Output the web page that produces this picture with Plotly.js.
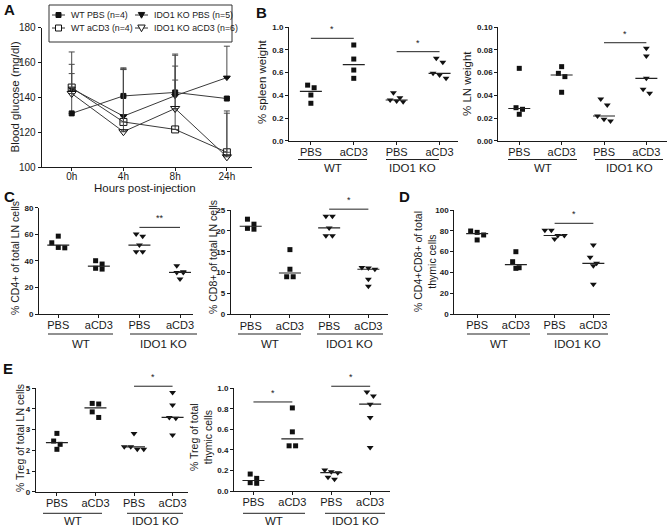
<!DOCTYPE html>
<html><head><meta charset="utf-8">
<script src="https://cdn.plot.ly/plotly-3.0.1.min.js"></script>
<style>html,body{margin:0;padding:0;background:#fff}</style>
</head><body>
<div id="chart" style="width:670px;height:527px"></div>
<script>
// ---------- DATA ----------
// Panel A: blood glucose time course
const timepoints = ['0h', '4h', '8h', '24h'];
const seriesNames = ['WT PBS (n=4)', 'IDO1 KO PBS (n=5)', 'WT aCD3 (n=4)', 'IDO1 KO aCD3 (n=6)'];
const wtPbsGlucose = [130.9, 140.9, 142.9, 139.4];
const wtPbsGlucoseErr = [13, 15.5, 22, 1];
const koPbsGlucose = [145.1, 129.3, 141.0, 151.4];
const koPbsGlucoseErr = [13.9, 27, 17, 18];
const wtCd3Glucose = [145.7, 126.0, 121.7, 108.6];
const wtCd3GlucoseErr = [20.4, 30, 28.3, 23.7];
const koCd3Glucose = [142.3, 120.4, 133.7, 106.0];
const koCd3GlucoseErr = [11.4, 36.6, 30.5, 25];

// Scatter panels: category labels
const treatments = ['PBS', 'aCD3', 'PBS', 'aCD3'];
const genotypes = ['WT', 'IDO1 KO'];

// B: % spleen weight
const spleenWtPbs = [0.49, 0.467, 0.403, 0.33];
const spleenWtCd3 = [0.844, 0.72, 0.623, 0.55];
const spleenKoPbs = [0.423, 0.379, 0.359, 0.35, 0.344];
const spleenKoCd3 = [0.727, 0.691, 0.594, 0.579, 0.55];
// B: % LN weight
const lnWtPbs = [0.0638, 0.0291, 0.0277, 0.0233];
const lnWtCd3 = [0.0653, 0.0594, 0.0565, 0.0427];
const lnKoPbs = [0.0368, 0.0315, 0.0218, 0.0189, 0.0174];
const lnKoCd3 = [0.0815, 0.0747, 0.055, 0.0453, 0.0418];
// C: % CD4+ of total LN cells
const cd4WtPbs = [58.6, 53.6, 50.1, 49.8];
const cd4WtCd3 = [40.1, 37.6, 34.4, 33.8];
const cd4KoPbs = [60.2, 58.6, 51.9, 46.8, 46.8];
const cd4KoCd3 = [36.3, 31.8, 31.3, 31.3, 26.3];
// C: % CD8+ of total LN cells
const cd8WtPbs = [22.8, 21.6, 20.6, 20.4];
const cd8WtCd3 = [15.5, 10.8, 9.0, 9.0];
const cd8KoPbs = [23.5, 23.5, 20.7, 18.8, 18.8];
const cd8KoCd3 = [11.2, 11.1, 10.8, 8.4, 6.7];
// D: % CD4+CD8+ of total thymic cells
const dpWtPbs = [79.8, 78.5, 76.0, 71.2];
const dpWtCd3 = [59.9, 50.3, 44.5, 43.9];
const dpKoPbs = [80.5, 80.5, 75.5, 75.5, 72.0];
const dpKoCd3 = [66.3, 54.5, 48.7, 46.4, 28.5];
// E: % Treg of total LN cells
const tregLnWtPbs = [2.82, 2.45, 2.29, 2.05];
const tregLnWtCd3 = [4.27, 4.24, 3.86, 3.59];
const tregLnKoPbs = [2.82, 2.17, 2.17, 2.05, 2.05];
const tregLnKoCd3 = [4.80, 4.19, 3.59, 3.55, 2.74];
// E: % Treg of total thymic cells
const tregThyWtPbs = [0.165, 0.123, 0.081, 0.075];
const tregThyWtCd3 = [0.809, 0.576, 0.44, 0.44];
const tregThyKoPbs = [0.204, 0.187, 0.178, 0.133, 0.114];
const tregThyKoCd3 = [0.964, 0.925, 0.845, 0.716, 0.424];

// ---------- LAYOUT HELPERS ----------
const W = 670, H = 527;
const FONT = 'Liberation Sans, Arial, sans-serif';
const INK = '#1a1a1a';
const px = p => p / W;
const py = p => 1 - p / H;

const panels = [
  {n: 2, groups: [spleenWtPbs, spleenWtCd3, spleenKoPbs, spleenKoCd3], box: [289, 458, 27.3, 140.7], yr: [0, 1], dtick: 0.2, fmt: '.1f', xr: [-0.51, 3.43],
   title: '% spleen weight', tfs: 11.5, tpos: [262, 82], ulY: 159.5, glY: 168, ul: [[298, 367], [386, 439]], sig: [[0, 1, 0.903, '*'], [2, 3, 0.785, '*']]},
  {n: 3, groups: [lnWtPbs, lnWtCd3, lnKoPbs, lnKoCd3], box: [498.3, 666.7, 27.3, 140.7], yr: [0, 0.1], dtick: 0.02, fmt: '.2f', xr: [-0.495, 3.48],
   title: '% LN weight', tfs: 11.5, tpos: [467, 84], ulY: 159.5, glY: 168, ul: [[508, 577], [595, 663]], sig: [[2, 3, 0.0864, '*']]},
  {n: 4, groups: [cd4WtPbs, cd4WtCd3, cd4KoPbs, cd4KoCd3], box: [39, 193, 207.7, 314], yr: [0, 80], dtick: 20, fmt: 'd', xr: [-0.475, 3.32],
   title: '% CD4+ of total LN cells', tfs: 10.5, tpos: [15, 258], ulY: 334, glY: 343.5, ul: [[48, 113], [130, 197]], sig: [[2, 3, 65.2, '**']]},
  {n: 5, groups: [cd8WtPbs, cd8WtCd3, cd8KoPbs, cd8KoCd3], box: [230.7, 388, 210, 314.3], yr: [0, 25], dtick: 5, fmt: 'd', xr: [-0.51, 3.5],
   title: '% CD8+ of total LN cells', tfs: 10.5, tpos: [213, 257], ulY: 334, glY: 343.5, ul: [[238, 301], [317, 383]], sig: [[2, 3, 25.2, '*']]},
  {n: 6, groups: [dpWtPbs, dpWtCd3, dpKoPbs, dpKoCd3], box: [454.3, 610, 210, 314], yr: [0, 100], dtick: 20, fmt: 'd', xr: [-0.59, 3.43],
   title: '% CD4+CD8+ of total<br>thymic cells', tfs: 10.5, tpos: [425, 262], ulY: 334, glY: 343.5, ul: [[467, 530], [547, 608]], sig: [[2, 3, 87.2, '*']]},
  {n: 7, groups: [tregLnWtPbs, tregLnWtCd3, tregLnKoPbs, tregLnKoCd3], box: [35.7, 188, 388.3, 491.7], yr: [0, 5], dtick: 1, fmt: 'd', xr: [-0.55, 3.40],
   title: '% Treg of total LN cells', tfs: 10.5, tpos: [20, 438], ulY: 513.3, glY: 520.5, ul: [[43, 102], [127, 183]], sig: [[2, 3, 5.1, '*']]},
  {n: 8, groups: [tregThyWtPbs, tregThyWtCd3, tregThyKoPbs, tregThyKoCd3], box: [234, 390, 388.3, 491], yr: [0, 1], dtick: 0.2, fmt: '.1f', xr: [-0.5, 3.51],
   title: '% Treg of total<br>thymic cells', tfs: 10.5, tpos: [201, 437], ulY: 513.3, glY: 520.5, ul: [[243, 305], [325, 385]], sig: [[0, 1, 0.867, '*'], [2, 3, 1.02, '*']]}
];

const mapX = (p, v) => p.box[0] + (v - p.xr[0]) / (p.xr[1] - p.xr[0]) * (p.box[1] - p.box[0]);
const mapY = (p, v) => p.box[3] - (v - p.yr[0]) / (p.yr[1] - p.yr[0]) * (p.box[3] - p.box[2]);

// GraphPad-like horizontal spreading of points that would overlap (in pixels)
function jitterPx(vals, pxPerY, d) {
  const idx = vals.map((v, i) => i).sort((a, b) => vals[b] - vals[a]);
  const off = new Array(vals.length).fill(0);
  let cl = [idx[0]];
  const flush = () => { const n = cl.length; cl.forEach((k, j) => { off[k] = (j - (n - 1) / 2) * d; }); };
  for (let j = 1; j < idx.length; j++) {
    if ((vals[cl[0]] - vals[idx[j]]) * pxPerY < d) cl.push(idx[j]);
    else { flush(); cl = [idx[j]]; }
  }
  flush();
  return off;
}
function median(a) {
  const s = a.slice().sort((x, y) => x - y); const m = s.length >> 1;
  return s.length % 2 ? s[m] : (s[m - 1] + s[m]) / 2;
}

const traces = [];
const shapes = [];
const annotations = [];
const layout = {
  width: W, height: H, margin: {l: 0, r: 0, t: 0, b: 0},
  paper_bgcolor: '#fff', plot_bgcolor: 'rgba(0,0,0,0)', showlegend: false,
  font: {family: FONT, color: INK}
};

function axisBase() {
  return {showline: true, linecolor: INK, linewidth: 1, ticks: 'outside', ticklen: 3, tickwidth: 1, tickcolor: INK,
          showgrid: false, zeroline: false, fixedrange: true};
}

// ---------- PANEL A ----------
{
  const box = [41.7, 251.7, 27.7, 167.3];
  layout.xaxis = Object.assign(axisBase(), {domain: [px(box[0]), px(box[1])], range: [-0.58, 3.48], anchor: 'y',
    tickvals: [0, 1, 2, 3], ticktext: timepoints, ticklabelstandoff: -3, tickfont: {size: 10, family: FONT, color: INK}});
  layout.yaxis = Object.assign(axisBase(), {domain: [py(box[3]), py(box[2])], range: [100, 180], anchor: 'x',
    tickvals: [100, 120, 140, 160, 180], tickfont: {size: 10, family: FONT, color: INK}});
  const ser = [
    [wtPbsGlucose, wtPbsGlucoseErr, 'square', 5],
    [koPbsGlucose, koPbsGlucoseErr, 'triangle-down', 6],
    [wtCd3Glucose, wtCd3GlucoseErr, 'square-open', 7],
    [koCd3Glucose, koCd3GlucoseErr, 'triangle-down-open', 8]
  ];
  ser.forEach((s, i) => {
    traces.push({x: [0, 1, 2, 3], y: s[0], xaxis: 'x', yaxis: 'y', mode: 'lines+markers', name: seriesNames[i],
      line: {color: '#3a3a3a', width: 1},
      marker: {symbol: s[2], size: s[3], color: '#111', line: {color: '#111', width: 1}},
      error_y: {type: 'data', symmetric: false, array: s[1], arrayminus: s[1].map(() => 0), color: '#4a4a4a', thickness: 1, width: 3}});
  });
  annotations.push({xref: 'paper', yref: 'paper', x: px(14), y: py(97.5), text: 'Blood glucose (mg/dl)', textangle: -90,
    showarrow: false, xanchor: 'center', yanchor: 'middle', font: {size: 11.5, family: FONT, color: INK}});
  annotations.push({xref: 'paper', yref: 'paper', x: px(145), y: py(188), text: 'Hours post-injection',
    showarrow: false, xanchor: 'center', yanchor: 'middle', font: {size: 11.5, family: FONT, color: INK}});
  // manual legend box
  shapes.push({type: 'rect', xref: 'paper', yref: 'paper', x0: px(49), x1: px(232), y0: py(5), y1: py(42), line: {color: '#333', width: 1}});
  const leg = [[52, 15, 'square', false], [135, 15, 'tri', false], [52, 28, 'square', true], [135, 28, 'tri', true]];
  leg.forEach((e, i) => {
    const [x0, y, sym, open] = e;
    shapes.push({type: 'line', xref: 'paper', yref: 'paper', x0: px(x0), x1: px(x0 + 13), y0: py(y), y1: py(y), line: {color: '#333', width: 1}});
    const cx = x0 + 6.5;
    const r = open ? 3 : 2.5;
    if (sym === 'square') {
      shapes.push({type: 'rect', xref: 'paper', yref: 'paper', x0: px(cx - r), x1: px(cx + r), y0: py(y + r), y1: py(y - r),
        line: {color: '#111', width: 1}, fillcolor: open ? '#fff' : '#111'});
    } else {
      const rr = r + 0.7;
      const path = `M ${px(cx - rr)} ${py(y - rr * 0.8)} L ${px(cx + rr)} ${py(y - rr * 0.8)} L ${px(cx)} ${py(y + rr)} Z`;
      shapes.push({type: 'path', xref: 'paper', yref: 'paper', path: path, line: {color: '#111', width: 1}, fillcolor: open ? '#fff' : '#111'});
    }
    annotations.push({xref: 'paper', yref: 'paper', x: px(x0 + 17), y: py(y), text: seriesNames[i], showarrow: false,
      xanchor: 'left', yanchor: 'middle', font: {size: 8.8, family: FONT, color: INK}});
  });
}

// ---------- SCATTER PANELS ----------
panels.forEach(p => {
  const xa = 'xaxis' + p.n, ya = 'yaxis' + p.n;
  const ticks = [];
  for (let v = p.yr[0]; v <= p.yr[1] + 1e-9; v += p.dtick) ticks.push(+v.toFixed(4));
  layout[xa] = Object.assign(axisBase(), {domain: [px(p.box[0]), px(p.box[1])], range: p.xr, anchor: 'y' + p.n,
    tickvals: [0, 1, 2, 3], ticktext: treatments, ticklabelstandoff: -2, tickfont: {size: 11, family: FONT, color: INK}});
  layout[ya] = Object.assign(axisBase(), {domain: [py(p.box[3]), py(p.box[2])], range: p.yr, anchor: 'x' + p.n,
    tickvals: ticks, tickformat: p.fmt, tickfont: {size: 8, family: FONT, color: INK, weight: 'bold'}});
  const pxPerY = (p.box[3] - p.box[2]) / (p.yr[1] - p.yr[0]);
  const pxPerX = (p.box[1] - p.box[0]) / (p.xr[1] - p.xr[0]);
  p.groups.forEach((vals, gi) => {
    const off = jitterPx(vals, pxPerY, 6.5);
    const isKO = gi >= 2;
    traces.push({x: vals.map((v, i) => gi + off[i] / pxPerX), y: vals, xaxis: 'x' + p.n, yaxis: 'y' + p.n, mode: 'markers',
      marker: {symbol: isKO ? 'triangle-down' : 'square', size: isKO ? 6 : 5, color: '#111'}, cliponaxis: false, hoverinfo: 'skip'});
    const med = median(vals);
    const hw = 11 / pxPerX;
    traces.push({x: [gi - hw, gi + hw], y: [med, med], xaxis: 'x' + p.n, yaxis: 'y' + p.n, mode: 'lines',
      line: {color: '#222', width: 1.2}, hoverinfo: 'skip'});
  });
  // significance bars
  p.sig.forEach(s => {
    const x0 = mapX(p, s[0]), x1 = mapX(p, s[1]), y = mapY(p, s[2]);
    shapes.push({type: 'line', xref: 'paper', yref: 'paper', x0: px(x0), x1: px(x1), y0: py(y), y1: py(y), line: {color: '#222', width: 1}});
    annotations.push({xref: 'paper', yref: 'paper', x: px((x0 + x1) / 2), y: py(y - 2), text: s[3], showarrow: false,
      xanchor: 'center', yanchor: 'bottom', font: {size: 9, family: FONT, color: INK}});
  });
  // group underlines + labels
  p.ul.forEach((u, k) => {
    shapes.push({type: 'line', xref: 'paper', yref: 'paper', x0: px(u[0]), x1: px(u[1]), y0: py(p.ulY), y1: py(p.ulY), line: {color: '#222', width: 1}});
    annotations.push({xref: 'paper', yref: 'paper', x: px((u[0] + u[1]) / 2), y: py(p.glY), text: genotypes[k], showarrow: false,
      xanchor: 'center', yanchor: 'middle', font: {size: 11.5, family: FONT, color: INK}});
  });
  annotations.push({xref: 'paper', yref: 'paper', x: px(p.tpos[0]), y: py(p.tpos[1]), text: p.title, textangle: -90, showarrow: false,
    xanchor: 'center', yanchor: 'middle', font: {size: p.tfs, family: FONT, color: INK}});
});

// panel letters
[['A', 9, 9], ['B', 261, 12], ['C', 9, 197], ['D', 404, 197], ['E', 8, 368]].forEach(l => {
  annotations.push({xref: 'paper', yref: 'paper', x: px(l[1]), y: py(l[2]), text: '<b>' + l[0] + '</b>', showarrow: false,
    xanchor: 'center', yanchor: 'middle', font: {size: 15, family: FONT, color: '#111'}});
});

layout.shapes = shapes;
layout.annotations = annotations;
Plotly.newPlot('chart', traces, layout, {displayModeBar: false, staticPlot: true});
</script>
</body></html>
